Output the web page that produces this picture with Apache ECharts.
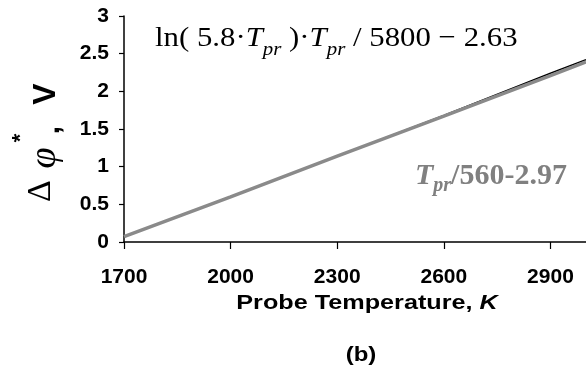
<!DOCTYPE html>
<html>
<head>
<meta charset="utf-8">
<script src="https://cdn.jsdelivr.net/npm/echarts@6/dist/echarts.min.js"></script>
<style>
  html, body { margin: 0; padding: 0; background: #fff; }
  #chart { width: 586px; height: 372px; }
</style>
</head>
<body>
<div id="chart"></div>
<script>
// probe temperature, K
const temps = [1700, 2000, 2300, 2600, 2900, 3000]
// ln(5.8*Tpr)*Tpr/5800 - 2.63 (black)
const lnValues = [0.07, 0.60, 1.14, 1.68, 2.24, 2.42]
// Tpr/560 - 2.97 (grey)
const linValues = [0.07, 0.60, 1.14, 1.67, 2.21, 2.39]
const yTicks = [0, 0.5, 1, 1.5, 2, 2.5, 3]

const chart = echarts.init(document.getElementById('chart'))

const pair = (xs, ys) => xs.map((x, i) => [x, ys[i]])
const SANS = 'Liberation Sans, Arial'
const SERIF = 'Liberation Serif, Times New Roman'
const tickFont = { fontFamily: SANS, fontWeight: 'bold', fontSize: 21, color: '#000' }

// rotated pieces of the y axis title, bottom to top
const yTitle = (text, x, y, font) => ({
    type: 'text', x, y, rotation: Math.PI / 2,
    style: { text, align: 'center', verticalAlign: 'middle', fill: '#000', ...font }
})

chart.setOption({
    animation: false,
    grid: { left: 124, right: -4, top: 16, bottom: 130 },
    xAxis: {
        type: 'value',
        min: temps[0],
        max: temps[temps.length - 1],
        interval: 300,
        axisLine: { lineStyle: { color: '#000', width: 1.5 } },
        axisTick: { length: 7, lineStyle: { color: '#000', width: 1.2 } },
        axisLabel: { ...tickFont, margin: 25, showMaxLabel: false, formatter: v => String(v) },
        splitLine: { show: false }
    },
    yAxis: {
        type: 'value',
        min: yTicks[0],
        max: yTicks[yTicks.length - 1],
        interval: 0.5,
        axisLine: { show: true, lineStyle: { color: '#000', width: 1.5 } },
        axisTick: { show: true, length: 5, lineStyle: { color: '#000', width: 1.2 } },
        axisLabel: { ...tickFont, margin: 15 },
        splitLine: { show: false }
    },
    series: [
        {
            type: 'line',
            data: pair(temps, lnValues),
            symbol: 'none',
            lineStyle: { color: '#000', width: 1.5 },
            z: 2
        },
        {
            type: 'line',
            data: pair(temps, linValues),
            symbol: 'none',
            lineStyle: { color: '#8a8a8a', width: 3.5 },
            z: 3
        }
    ],
    graphic: [
        {
            type: 'text',
            left: 155,
            top: 25,
            scaleX: 1.1,
            style: {
                text: '{a|ln( 5.8·}{i|T}{s|pr}{a| )·}{i|T}{s|pr}{a| / 5800 − 2.63}',
                rich: {
                    a: { fontFamily: SERIF, fontSize: 28, lineHeight: 40, fill: '#000' },
                    i: { fontFamily: SERIF, fontStyle: 'italic', fontSize: 28, lineHeight: 40, fill: '#000' },
                    s: { fontFamily: SERIF, fontStyle: 'italic', fontSize: 19, lineHeight: 4, verticalAlign: 'bottom', fill: '#000' }
                }
            }
        },
        {
            type: 'text',
            left: 415,
            top: 161,
            style: {
                text: '{i|T}{s|pr}{a|/560-2.97}',
                rich: {
                    a: { fontFamily: SERIF, fontWeight: 'bold', fontSize: 30, lineHeight: 40, fill: '#808080' },
                    i: { fontFamily: SERIF, fontWeight: 'bold', fontStyle: 'italic', fontSize: 30, lineHeight: 40, fill: '#808080' },
                    s: { fontFamily: SERIF, fontWeight: 'bold', fontStyle: 'italic', fontSize: 20, lineHeight: 14, verticalAlign: 'bottom', fill: '#808080' }
                }
            }
        },
        yTitle('Δ', 41, 191, { fontFamily: SERIF, fontSize: 34 }),
        yTitle('φ', 45, 158, { fontFamily: SERIF, fontStyle: 'italic', fontSize: 38 }),
        yTitle('*', 21, 138, { fontFamily: SANS, fontWeight: 'bold', fontSize: 22 }),
        yTitle(',', 51, 130, { fontFamily: SANS, fontWeight: 'bold', fontSize: 30 }),
        yTitle('V', 46, 94, { fontFamily: SANS, fontWeight: 'bold', fontSize: 32 }),
        {
            type: 'text',
            x: 367,
            y: 303,
            scaleX: 1.2,
            style: {
                text: 'Probe Temperature, {k|K}',
                align: 'center',
                verticalAlign: 'middle',
                fontFamily: SANS,
                fontWeight: 'bold',
                fontSize: 21,
                fill: '#000',
                rich: {
                    k: { fontFamily: SANS, fontWeight: 'bold', fontStyle: 'italic', fontSize: 21, fill: '#000' }
                }
            }
        },
        {
            type: 'text',
            x: 361,
            y: 355,
            scaleX: 1.2,
            style: {
                text: '(b)',
                align: 'center',
                verticalAlign: 'middle',
                fontFamily: SANS,
                fontWeight: 'bold',
                fontSize: 20,
                fill: '#000'
            }
        }
    ]
})
</script>
</body>
</html>
